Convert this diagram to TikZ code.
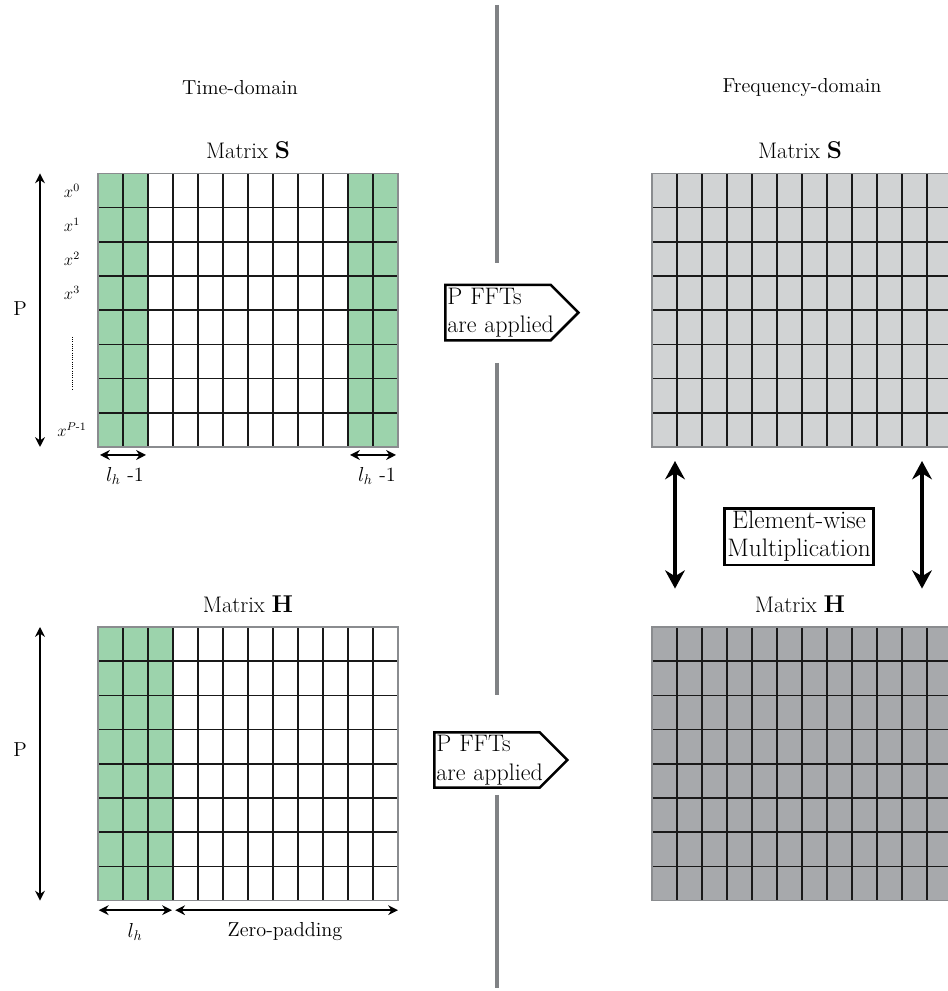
\documentclass[tikz,border=0pt]{standalone}
\usepackage{amsmath}
\usetikzlibrary{arrows.meta, positioning, shapes.symbols}
\definecolor{tapgreen}{HTML}{9CD3AC}
\definecolor{freqlight}{HTML}{D1D3D4}
\definecolor{freqdark}{HTML}{A7A9AC}
\definecolor{divgray}{HTML}{808285}
\definecolor{edgegray}{HTML}{8A8C8F}

\tikzset{
  cellline/.style={black!90, line width=1.1pt},
  celledge/.style={edgegray, line width=1.1pt},
  lbl/.style={font=\Large},
  head/.style={font=\Large},
  matlbl/.style={font=\fontsize{16}{19}\selectfont},
  dimarrow/.style={line width=1.3pt, {Stealth[length=7pt,width=7pt]}-{Stealth[length=7pt,width=7pt]}},
  bigarrow/.style={line width=2.8pt, {Stealth[length=13pt,width=14pt]}-{Stealth[length=13pt,width=14pt]}},
  fftbox/.style={signal, signal to=east, signal pointer angle=90, draw, fill=white,
    line width=1.8pt, align=left, text width=72pt, inner xsep=1.5pt, inner ysep=2pt,
    font=\fontsize{17}{20.5}\selectfont},
  divider/.style={divgray, line width=2.2pt}
}

\begin{document}
\begin{tikzpicture}

\useasboundingbox (0,0) rectangle (23.675,24.775);

% Dividing line between the two domains
\draw[divider] (12.425,24.65) -- (12.425,18.2);
\draw[divider] (12.425,15.7) -- (12.425,7.4);
\draw[divider] (12.425,4.9) -- (12.425,0.07);

% Headings
\node[head] (timehead) at (6.0,22.575) {Time-domain};
\node[head] (freqhead) at (20.05,22.575) {Frequency-domain};

% --- Matrix S, time domain ---
\begin{scope}[shift={(2.45,13.6)}]
  \fill[white] (0,0) rectangle (7.5,6.84);
  \foreach \c in {0,1,10,11}
    \fill[tapgreen] (\c*0.625,0) rectangle ++(0.625,6.84);
  \foreach \i in {1,...,11}
    \draw[cellline] (\i*0.625,0) -- (\i*0.625,6.84);
  \foreach \j in {1,...,7}
    \draw[cellline] (0,\j*0.855) -- (7.5,\j*0.855);
  \draw[celledge] (0,0) rectangle (7.5,6.84);
  \coordinate (Stop) at (-1.45,6.84);
  \coordinate (Sbot) at (-1.45,0);
  \coordinate (Sa0) at (0.05,-0.2);
  \coordinate (Sa1) at (1.2,-0.2);
  \coordinate (Sb0) at (6.3,-0.2);
  \coordinate (Sb1) at (7.45,-0.2);
\end{scope}
\node[matlbl] (Slabel) at (6.2,21.025) {Matrix $\mathbf{S}$};

% Rows of S
\foreach \r/\t in {0/x^0, 1/x^1, 2/x^2, 3/x^3, 7/x^{P\text{-}1}}
  \node[font=\large] (xrow\r) at (1.8,20.44-0.855*\r-0.4275) {$\t$};
\draw[densely dotted, line width=0.6pt] (1.8,16.35) -- (1.8,15.03);

% Row count and tap widths
\draw[dimarrow] (Stop) -- (Sbot);
\node[lbl] (Sp) at (0.5,17.05) {P};
\draw[dimarrow] (Sa0) -- (Sa1);
\draw[dimarrow] (Sb0) -- (Sb1);
\node[lbl] (Sl0) at (3.125,12.875) {$l_h$ -1};
\node[lbl] (Sl1) at (9.425,12.875) {$l_h$ -1};

% --- Matrix H, time domain ---
\begin{scope}[shift={(2.45,2.26)}]
  \fill[white] (0,0) rectangle (7.5,6.84);
  \foreach \c in {0,1,2}
    \fill[tapgreen] (\c*0.625,0) rectangle ++(0.625,6.84);
  \foreach \i in {1,...,11}
    \draw[cellline] (\i*0.625,0) -- (\i*0.625,6.84);
  \foreach \j in {1,...,7}
    \draw[cellline] (0,\j*0.855) -- (7.5,\j*0.855);
  \draw[celledge] (0,0) rectangle (7.5,6.84);
  \coordinate (Htop) at (-1.45,6.84);
  \coordinate (Hbot) at (-1.45,0);
  \coordinate (Ha0) at (0.02,-0.24);
  \coordinate (Ha1) at (1.85,-0.24);
  \coordinate (Hb0) at (1.93,-0.24);
  \coordinate (Hb1) at (7.5,-0.24);
\end{scope}
\node[matlbl] (Hlabel) at (6.2,9.675) {Matrix $\mathbf{H}$};

\draw[dimarrow] (Htop) -- (Hbot);
\node[lbl] (Hp) at (0.5,6.025) {P};
\draw[dimarrow] (Ha0) -- (Ha1);
\draw[dimarrow] (Hb0) -- (Hb1);
\node[lbl] (Hl) at (3.375,1.475) {$l_h$};
\node[lbl] (Hzero) at (7.125,1.475) {Zero-padding};

% --- FFT steps ---
\node[fftbox, anchor=west] (fftS) at (11.1,16.96) {P FFTs\\\mbox{are applied}};
\node[fftbox, anchor=west] (fftH) at (10.825,5.775) {P FFTs\\\mbox{are applied}};

% --- Matrix S, frequency domain ---
\begin{scope}[shift={(16.3,13.6)}]
  \fill[freqlight] (0,0) rectangle (7.5,6.84);
  \foreach \i in {1,...,11}
    \draw[cellline] (\i*0.625,0) -- (\i*0.625,6.84);
  \foreach \j in {1,...,7}
    \draw[cellline] (0,\j*0.855) -- (7.5,\j*0.855);
  \draw[celledge] (0,0) rectangle (7.5,6.84);
  \coordinate (FSa) at (0.575,-0.35);
  \coordinate (FSb) at (6.75,-0.35);
\end{scope}
\node[matlbl] (FSlabel) at (20.0,21.025) {Matrix $\mathbf{S}$};

% --- Matrix H, frequency domain ---
\begin{scope}[shift={(16.3,2.26)}]
  \fill[freqdark] (0,0) rectangle (7.5,6.84);
  \foreach \i in {1,...,11}
    \draw[cellline] (\i*0.625,0) -- (\i*0.625,6.84);
  \foreach \j in {1,...,7}
    \draw[cellline] (0,\j*0.855) -- (7.5,\j*0.855);
  \draw[celledge] (0,0) rectangle (7.5,6.84);
  \coordinate (FHa) at (0.575,7.8);
  \coordinate (FHb) at (6.75,7.8);
\end{scope}
\node[matlbl] (FHlabel) at (20.0,9.675) {Matrix $\mathbf{H}$};

% Element-wise product
\draw[bigarrow] (FSa) -- (FHa);
\draw[bigarrow] (FSb) -- (FHb);
\node[draw, line width=1.5pt, align=center, inner sep=2pt,
  font=\fontsize{18}{20}\selectfont] (mult) at (19.975,11.36) {Element-wise\\Multiplication};

\end{tikzpicture}
\end{document}
